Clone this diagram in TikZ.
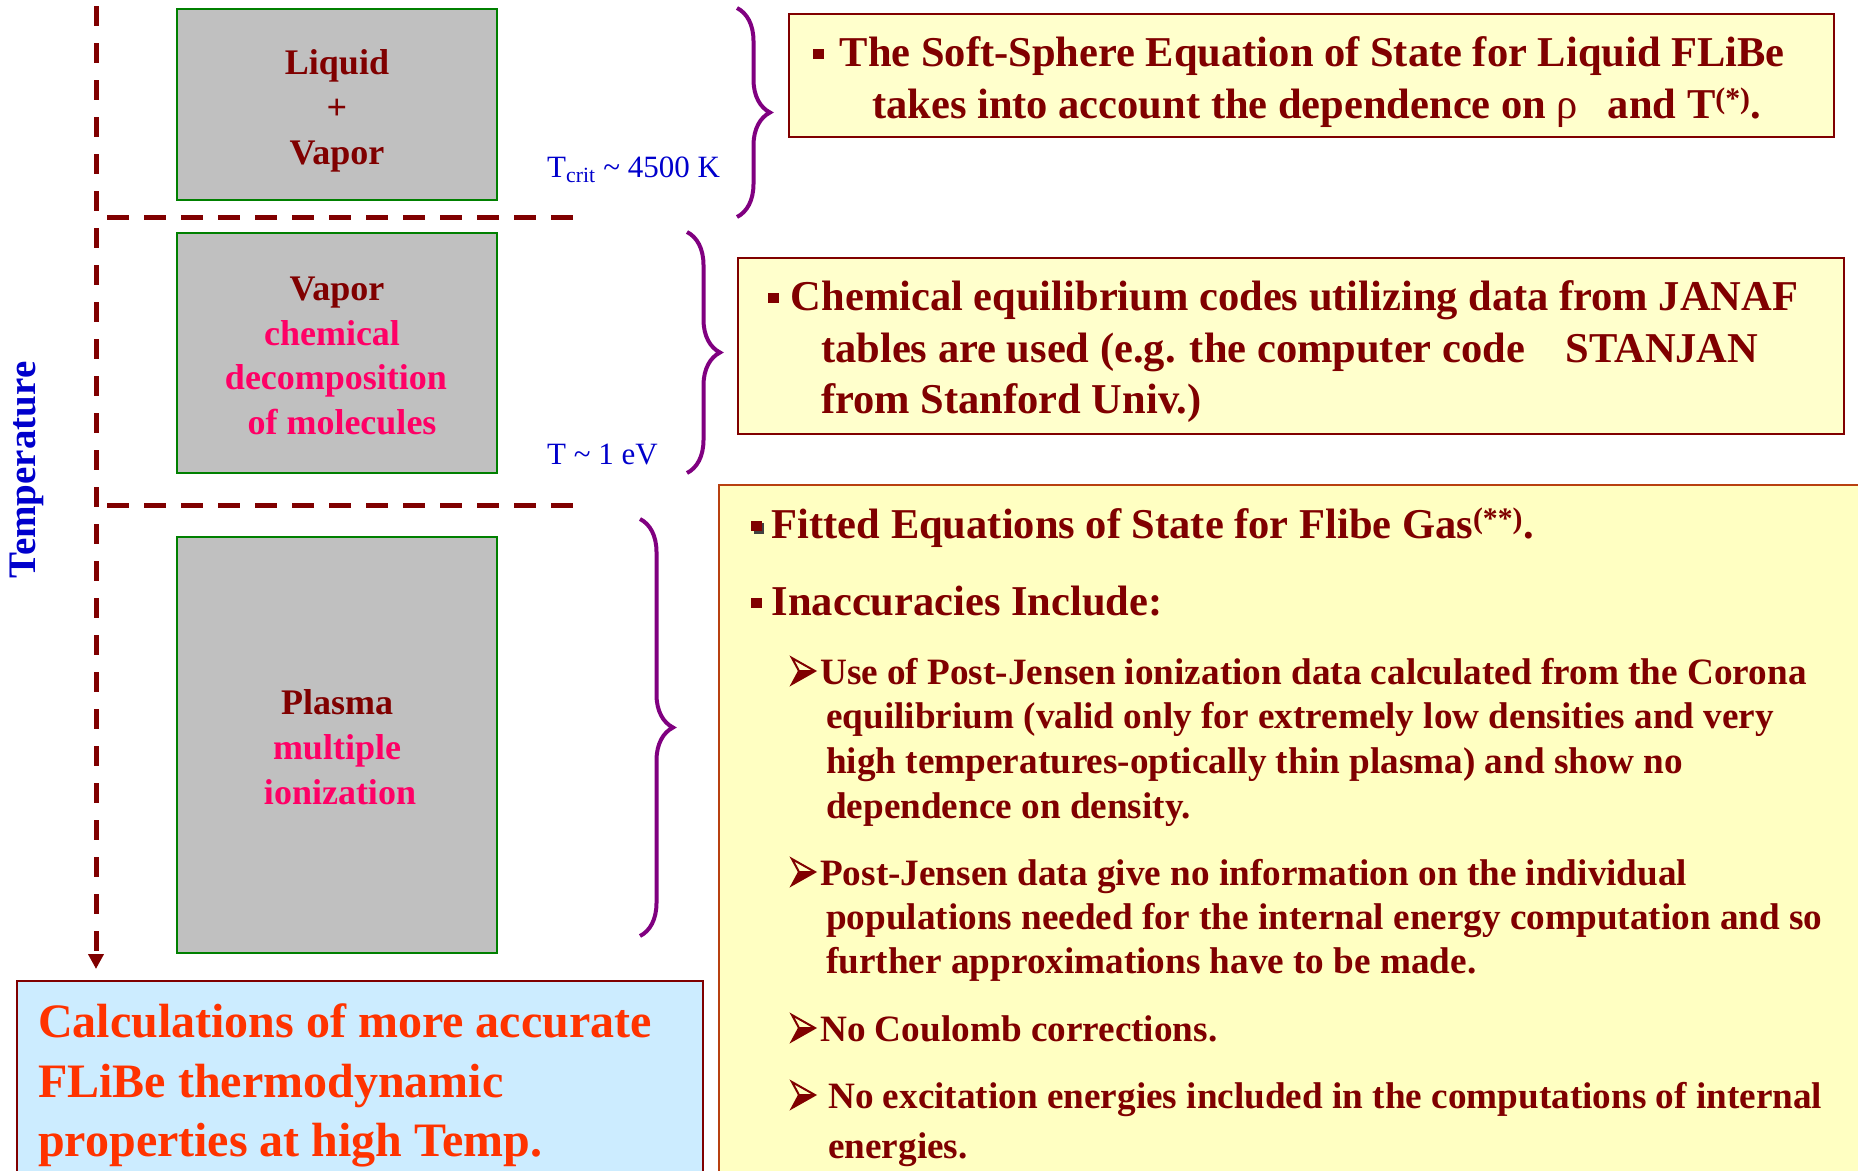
\documentclass[tikz,border=0pt]{standalone}
\usepackage{fontspec}
\setmainfont{Liberation Serif}
\usetikzlibrary{arrows.meta,decorations.pathreplacing}
\definecolor{dred}{HTML}{800000}
\definecolor{pinkred}{HTML}{FF0066}
\definecolor{orred}{HTML}{FF3300}
\definecolor{tblue}{HTML}{0000CC}
\definecolor{bpurple}{HTML}{800080}
\definecolor{lyellow}{HTML}{FFFFCC}
\definecolor{lyellowb}{HTML}{FFFFC2}
\definecolor{lblue}{HTML}{CCECFF}
\definecolor{bgray}{HTML}{C0C0C0}
\definecolor{bgreen}{HTML}{008000}
\definecolor{cborder}{HTML}{B84010}
\newcommand{\sqb}{\textcolor{dred}{\rule[0.16em]{0.25em}{0.25em}}}
\begin{document}
\begin{tikzpicture}[x=1pt,y=-1pt,
  phase/.style={draw=bgreen, line width=2pt, fill=bgray, inner sep=0pt},
  infobox/.style={draw=dred, line width=2.5pt, fill=lyellow, inner sep=0pt},
  lbl/.style={anchor=base west, inner sep=0pt, text=dred, font=\bfseries\fontsize{42.5}{52}\selectfont},
  sublbl/.style={anchor=base west, inner sep=0pt, text=dred, font=\bfseries\fontsize{37.2}{45}\selectfont},
  ptxt/.style={anchor=base, inner sep=0pt, font=\bfseries\fontsize{36}{45}\selectfont},
  big/.style={anchor=base west, inner sep=0pt, text=orred, font=\bfseries\fontsize{48}{59}\selectfont},
  tlbl/.style={anchor=base west, inner sep=0pt, text=tblue, font=\fontsize{31}{36}\selectfont},
  sepline/.style={draw=dred, line width=5pt, dash pattern=on 22pt off 15pt},
  brc/.style={decorate, decoration={brace, amplitude=33pt}, draw=bpurple, line width=4pt},
  arrowbul/.pic={
    \fill[dred] (7,-13) -- (23,-13) -- (0,0) -- cycle;
    \draw[dred, line width=2pt, line join=miter] (0,-26) -- (23,-13) -- (0,0) -- (7,-13) -- cycle;
    \draw[dred, line width=1.5pt] (7,-13) -- (23,-13);
  }]
\clip (0,0) rectangle (1858,1170);
\fill[white] (0,0) rectangle (1858,1170);

% phase boxes
\node[phase, minimum width=320pt, minimum height=191pt] (box1) at (337,104.5) {};
\node[phase, minimum width=320pt, minimum height=240pt] (box2) at (337,353) {};
\node[phase, minimum width=320pt, minimum height=416pt] (box3) at (337,745) {};

\node[ptxt, text=dred] (l1) at (337,74) {Liquid};
\node[ptxt, text=dred] (l2) at (337,119) {+};
\node[ptxt, text=dred] (l3) at (337,164) {Vapor};
\node[ptxt, text=dred] (m1) at (337,300) {Vapor};
\node[ptxt, text=pinkred] (m2) at (332,345) {chemical};
\node[ptxt, text=pinkred] (m3) at (336,389) {decomposition};
\node[ptxt, text=pinkred] (m4) at (342,434) {of molecules};
\node[ptxt, text=dred] (p1) at (337,714) {Plasma};
\node[ptxt, text=pinkred] (p2) at (337,759) {multiple};
\node[ptxt, text=pinkred] (p3) at (340,804) {ionization};

% temperature axis and separators
\coordinate (vtop) at (96,6);
\coordinate (vend) at (96,969);
\draw[draw=dred, line width=5pt, dash pattern=on 20pt off 17pt, -{Triangle[length=15pt,width=15pt]}] (vtop) -- (vend);
\coordinate (h1a) at (107,217); \coordinate (h1b) at (577,217);
\coordinate (h2a) at (107,505); \coordinate (h2b) at (577,505);
\draw[sepline] (h1a) -- (h1b);
\draw[sepline] (h2a) -- (h2b);
\node[rotate=90, text=tblue, inner sep=0pt, font=\bfseries\fontsize{39}{39}\selectfont] (temp) at (27,470) {Temperature};

\node[tlbl] (tcrit) at (547,177) {T\textsubscript{crit} \textasciitilde{} 4500 K};
\node[tlbl] (tev) at (547,464) {T \textasciitilde{} 1 eV};

% braces
\coordinate (b1t) at (737,8);   \coordinate (b1b) at (737,217);
\coordinate (b2t) at (687,232); \coordinate (b2b) at (687,473);
\coordinate (b3t) at (640,519); \coordinate (b3b) at (640,936);
\draw[brc] (b1t) -- (b1b);
\draw[brc] (b2t) -- (b2b);
\draw[brc] (b3t) -- (b3b);

% info boxes
\node[infobox, minimum width=1045pt, minimum height=123pt] (boxA) at (1311.5,75.5) {};
\node[infobox, minimum width=1106pt, minimum height=176pt] (boxB) at (1291,346) {};
\node[infobox, draw=cborder, fill=lyellowb, minimum width=1161pt, minimum height=705pt] (boxC) at (1299.5,837.5) {};
\node[infobox, fill=lblue, minimum width=686pt, minimum height=209pt] (boxD) at (360,1085.5) {};

\node[lbl] (a1) at (813,66) {\sqb\hspace{16pt}The Soft-Sphere Equation of State for Liquid FLiBe};
\node[lbl] (a2) at (872,118) {takes into account the dependence on {\mdseries ρ}\hspace{0.45em} and T\textsuperscript{(*)}.};

\node[lbl] (bb1) at (768,310) {\sqb\hspace{12pt}Chemical equilibrium codes utilizing data from JANAF};
\node[lbl] (bb2) at (821,362) {tables are used (e.g. the computer code\hspace{0.7em} STANJAN};
\node[lbl] (bb3) at (821,413) {from Stanford Univ.)};

\fill[black!75] (753.5,523) rectangle (764,533.5);
\node[lbl] (c1) at (751,538) {\sqb\hspace{10pt}Fitted Equations of State for Flibe Gas\textsuperscript{(**)}.};
\node[lbl] (c2) at (751,615) {\sqb\hspace{10pt}Inaccuracies Include:};
\pic (ar1) at (792,684) {arrowbul};
\node[sublbl] (c3) at (820,684) {Use of Post-Jensen ionization data calculated from the Corona};
\node[sublbl] (c4) at (826,728) {equilibrium (valid only for extremely low densities and very};
\node[sublbl] (c5) at (826,773) {high temperatures-optically thin plasma) and show no};
\node[sublbl] (c6) at (826,818) {dependence on density.};
\pic (ar2) at (792,885) {arrowbul};
\node[sublbl] (c7) at (820,885) {Post-Jensen data give no information on the individual};
\node[sublbl] (c8) at (826,929) {populations needed for the internal energy computation and so};
\node[sublbl] (c9) at (826,973) {further approximations have to be made.};
\pic (ar3) at (792,1041) {arrowbul};
\node[sublbl] (c10) at (820,1041) {No Coulomb corrections.};
\pic (ar4) at (792,1108) {arrowbul};
\node[sublbl] (c11) at (828,1108) {No excitation energies included in the computations of internal};
\node[sublbl] (c12) at (828,1158) {energies.};

\node[big] (d1) at (38,1037) {Calculations of more accurate};
\node[big] (d2) at (38,1097) {FLiBe thermodynamic};
\node[big] (d3) at (38,1156) {properties at high Temp.};
\end{tikzpicture}
\end{document}
